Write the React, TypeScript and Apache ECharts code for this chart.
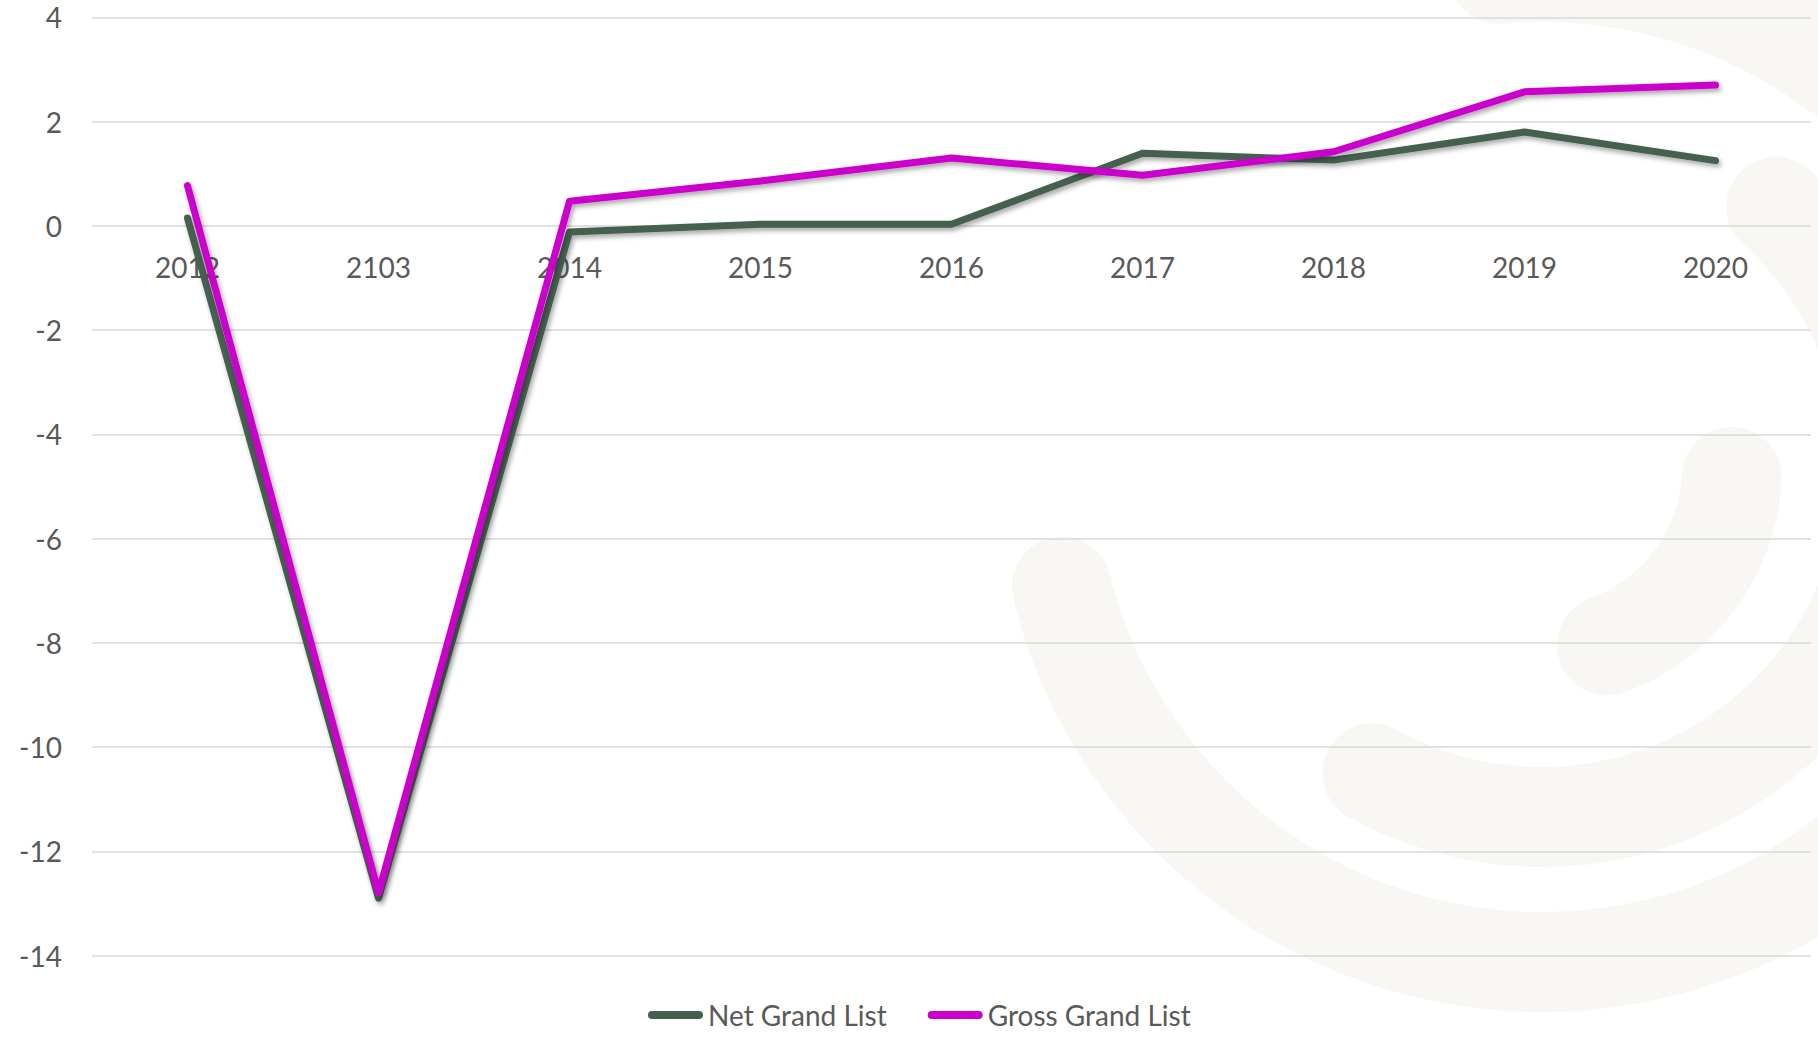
import React, { useEffect, useRef } from "react";
import * as echarts from "echarts";

const categories = ["2012", "2103", "2014", "2015", "2016", "2017", "2018", "2019", "2020"];
const netGrandList = [0.15, -12.9, -0.12, 0.03, 0.03, 1.39, 1.26, 1.8, 1.25];
const grossGrandList = [0.77, -12.8, 0.47, 0.86, 1.3, 0.97, 1.42, 2.57, 2.7];
const seriesNames = ["Net Grand List", "Gross Grand List"];
const seriesColors = ["#45604f", "#cc00cc"];

const FONT = "Lato, 'Open Sans', sans-serif";
const TEXT_COLOR = "#595959";
const GRID_COLOR = "#d9d9d9";
const WM_COLOR = "#f8f7f4";

const Y_MIN = -14;
const Y_MAX = 4;
const GRID_TOP = 17.3;
const GRID_BOTTOM = 81.5;
const CHART_H = 1037;

const deg = (d: number) => (d * Math.PI) / 180;

function watermark() {
  const cx = 1542;
  const cy = 467;
  const rings = [
    { r: 495, s: -95, e: 166 },
    { r: 350, s: -48, e: 119 },
    { r: 190, s: 3, e: 70 },
  ];
  return rings.map((g) => ({
    type: "arc",
    silent: true,
    z: -10,
    shape: { cx, cy, r: g.r, startAngle: deg(g.s), endAngle: deg(g.e), clockwise: true },
    style: { stroke: WM_COLOR, lineWidth: 100, lineCap: "round", fill: null },
  }));
}

export default function App() {
  const ref = useRef<HTMLDivElement>(null);
  useEffect(() => {
    if (!ref.current) return;
    const chart = echarts.init(ref.current, undefined, { renderer: "svg" });
    const plotH = CHART_H - GRID_TOP - GRID_BOTTOM;
    // distance from bottom of plot to the zero line, so the category axis sits on zero
    const zeroOffset = (plotH * (0 - Y_MIN)) / (Y_MAX - Y_MIN);
    const mkSeries = (name: string, data: number[], color: string) => ({
      name,
      type: "line",
      data,
      symbol: "none",
      showSymbol: false,
      color,
      lineStyle: {
        color,
        width: 7,
        cap: "round",
        join: "round",
        shadowColor: "rgba(0,0,0,0.35)",
        shadowBlur: 5,
        shadowOffsetX: 2,
        shadowOffsetY: 3,
      },
      emphasis: { disabled: true },
    });
    chart.setOption({
      animation: false,
      backgroundColor: "#ffffff",
      graphic: watermark(),
      grid: { left: 92, right: 7, top: GRID_TOP, bottom: GRID_BOTTOM },
      xAxis: {
        type: "category",
        data: categories,
        boundaryGap: true,
        position: "bottom",
        offset: -zeroOffset,
        axisLine: { show: false, onZero: false },
        axisTick: { show: false },
        axisLabel: { color: TEXT_COLOR, fontSize: 28, fontFamily: FONT, margin: 27 },
        splitLine: { show: false },
      },
      yAxis: {
        type: "value",
        min: Y_MIN,
        max: Y_MAX,
        interval: 2,
        axisLine: { show: false },
        axisTick: { show: false },
        axisLabel: { color: TEXT_COLOR, fontSize: 28, fontFamily: FONT, margin: 30 },
        splitLine: { lineStyle: { color: GRID_COLOR, width: 1.5 } },
      },
      legend: {
        data: seriesNames,
        top: 996,
        left: 643,
        itemWidth: 55,
        itemHeight: 8,
        itemGap: 41,
        icon: "path://M4,0L51,0A4,4,0,0,1,51,8L4,8A4,4,0,0,1,4,0Z",
        itemStyle: { borderWidth: 0, shadowBlur: 0, shadowColor: "transparent" },
        textStyle: { color: TEXT_COLOR, fontSize: 28, fontFamily: FONT },
        selectedMode: false,
      },
      series: [
        mkSeries(seriesNames[0], netGrandList, seriesColors[0]),
        mkSeries(seriesNames[1], grossGrandList, seriesColors[1]),
      ],
    });
    return () => chart.dispose();
  }, []);
  return (
    <div
      ref={ref}
      style={{ position: "absolute", left: 0, top: 0, width: 1818, height: 1037 }}
    />
  );
}
